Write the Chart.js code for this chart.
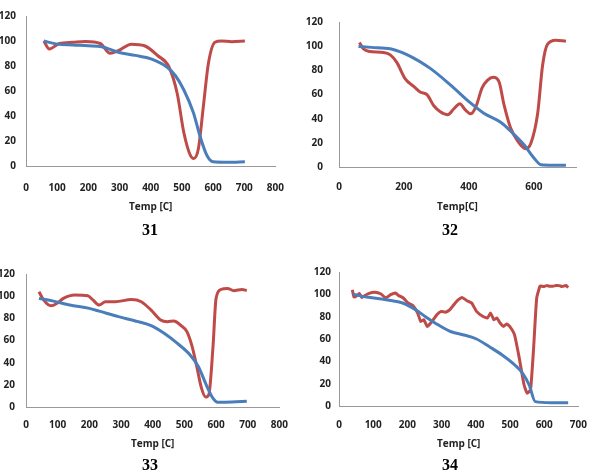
<!DOCTYPE html>
<html>
<head>
<meta charset="utf-8">
<script src="https://cdn.jsdelivr.net/npm/chart.js@4.4.0/dist/chart.umd.min.js"></script>
<style>
  body { margin: 0; background: #fff; }
  #wrap { position: relative; width: 600px; height: 474px; overflow: hidden; }
  canvas { position: absolute; }
  .num { position: absolute; width: 60px; line-height: 18px; text-align: center;
         font: bold 16px "Liberation Serif", serif; color: #000; }
</style>
</head>
<body>
<div id="wrap">
  <canvas id="c31" width="300" height="237" style="left:0;top:0"></canvas>
  <canvas id="c32" width="300" height="237" style="left:300px;top:0"></canvas>
  <canvas id="c33" width="300" height="237" style="left:0;top:237px"></canvas>
  <canvas id="c34" width="300" height="237" style="left:300px;top:237px"></canvas>
  <div class="num" style="left:120px;top:221px">31</div>
  <div class="num" style="left:420px;top:221px">32</div>
  <div class="num" style="left:120px;top:456px">33</div>
  <div class="num" style="left:420px;top:456px">34</div>
</div>
<script>
// sample 31
const blueX31 = [57, 100, 150, 200, 243, 296, 350, 401, 453, 480, 506, 537, 558, 580, 600, 650, 702];
const blueY31 = [100, 97.5, 96.8, 96.2, 95.4, 91, 88.5, 85.7, 79, 72, 61, 42.6, 24, 8.6, 3.4, 3, 3.4];
const redX31 = [57, 75, 107, 150, 191, 238, 270, 296, 338, 380, 422, 459, 485, 506, 527, 538, 553, 569, 585, 606, 627, 660, 702];
const redY31 = [100, 93.6, 98, 99, 99.6, 98, 90.2, 92.3, 97.5, 96.2, 88.4, 79, 58, 27, 8.6, 6, 14, 48, 82, 99, 100, 99.5, 100];

// sample 32
const blueX32 = [60, 100, 158, 220, 281, 343, 405, 446, 498, 529, 570, 601, 622, 660, 699];
const blueY32 = [99.8, 99, 97.8, 91.6, 81.6, 68, 53, 44.5, 37, 29.6, 18.4, 7.3, 1.9, 1.5, 1.5];
const redX32 = [63, 75, 91, 137, 158, 178, 204, 230, 251, 271, 292, 312, 335, 354, 372, 390, 405, 421, 441, 457, 475, 493, 508, 529, 549, 575, 591, 612, 627, 642, 668, 699];
const redY32 = [103, 97.8, 95.8, 94.8, 92.8, 86.6, 73, 66.8, 61.9, 59.9, 50.7, 45.7, 43.3, 48.2, 52.4, 47, 44, 49.4, 65.6, 71.7, 74.2, 70.5, 51.9, 32, 22, 15.2, 19.7, 44.5, 84, 101.5, 105, 104];

// sample 33
const blueX33 = [41, 87, 138, 200, 231, 292, 354, 395, 436, 477, 518, 544, 569, 590, 605, 650, 697];
const blueY33 = [98, 95.5, 92, 89, 86.5, 81.5, 77, 73.4, 66.5, 57.6, 47, 36.6, 20, 8, 4.3, 4.5, 5.2];
const redX33 = [41, 56, 79, 97, 118, 154, 195, 212, 231, 251, 282, 333, 364, 395, 425, 446, 467, 487, 508, 523, 538, 554, 567, 577, 590, 600, 615, 636, 656, 682, 697];
const redY33 = [104, 96.4, 91.3, 93.4, 98, 101, 100.3, 96.4, 92, 95, 95, 97, 95, 87.4, 78.5, 77, 77.6, 74, 68, 56, 38, 17, 9, 11, 53, 98, 106, 107, 105, 106, 105];

// sample 34
const blueX34 = [41, 86, 142, 188, 225, 253, 291, 328, 365, 402, 440, 477, 514, 537, 556, 574, 620, 670];
const blueY34 = [100, 97.3, 95, 92, 86, 80, 72.5, 66.5, 63.6, 60, 53, 45.7, 36.7, 29.3, 18.8, 3.9, 3, 3];
const redX34 = [39, 44, 53, 59, 67, 76, 86, 104, 123, 137, 151, 165, 174, 188, 202, 216, 230, 239, 248, 258,
  272, 286, 299, 311, 323, 332, 346, 360, 374, 388, 402, 420, 434, 443, 453, 462, 471, 481, 490, 499,
  513, 527, 541, 550, 560, 569, 578, 588, 598, 607, 616, 625, 635, 644, 652, 658, 664, 670];
const redY34 = [104, 97.5, 99, 100.8, 97.2, 99, 100.6, 101.8, 100.3, 96.7, 99.7, 101.2, 99, 96.7, 92.2, 90, 83.2, 75.7, 77.2, 71.2,
  75.7, 81.7, 84.7, 84, 86, 89.2, 94.3, 97.2, 94.3, 92.2, 84.7, 80.3, 78.8, 83.2, 77.2, 78.8, 74.3, 71.3, 73.4, 71.3,
  63.9, 43, 19, 11.5, 14.5, 52, 96.7, 107.5, 107, 107.8, 107.3, 107.2, 107.9, 107.8, 107, 107.5, 108, 106];

const BLUE = '#4a7ebb';
const RED = '#be4b48';

Chart.defaults.font.family = "'Open Sans', sans-serif";
Chart.defaults.color = '#222';

function pts(xs, ys) {
  return xs.map((x, i) => ({ x: x, y: ys[i] }));
}

function makeChart(id, blue, red, o) {
  new Chart(document.getElementById(id), {
    type: 'line',
    data: {
      datasets: [
        { data: blue, borderColor: BLUE, borderWidth: 3, pointRadius: 0, cubicInterpolationMode: 'monotone' },
        { data: red, borderColor: RED, borderWidth: 3, pointRadius: 0,
          cubicInterpolationMode: o.jagged ? 'default' : 'monotone', tension: o.jagged ? 0.15 : 0.4 }
      ]
    },
    options: {
      responsive: false,
      animation: false,
      layout: { padding: o.pad },
      plugins: { legend: { display: false }, tooltip: { enabled: false } },
      scales: {
        x: {
          type: 'linear',
          min: 0,
          max: o.xMax,
          grid: { display: false, drawTicks: false },
          border: { display: true, color: '#999', width: 1 },
          ticks: { stepSize: o.xStep, padding: o.xPad, font: { size: 10, weight: 'bold' } },
          afterBuildTicks: s => { s.ticks = s.ticks.filter(t => t.value % o.xStep === 0); },
          afterFit: s => { s.height = 50; },
          title: { display: true, text: o.title, color: '#222',
                   font: { size: 10, weight: 'bold' }, padding: { top: 0, bottom: o.titlePad } }
        },
        y: {
          min: 0,
          max: 120,
          grid: { display: false, drawTicks: false },
          border: { display: true, color: '#999', width: 1 },
          ticks: { stepSize: 20, padding: o.yPad, font: { size: 10, weight: 'bold' } },
          afterFit: s => { s.width = o.yW; }
        }
      }
    }
  });
}

makeChart('c31', pts(blueX31, blueY31), pts(redX31, redY31),
  { xMax: 800, xStep: 100, pad: { left: 0, top: 13, right: 20, bottom: 21 }, yW: 26, yPad: 10, xPad: 16, titlePad: 3, title: 'Temp [C]' });
makeChart('c32', pts(blueX32, blueY32), pts(redX32, redY32),
  { xMax: 730, xStep: 200, pad: { left: 0, top: 6, right: 24, bottom: 20 }, yW: 39, yPad: 16, xPad: 14, titlePad: 4, title: 'Temp[C]' });
makeChart('c33', pts(blueX33, blueY33), pts(redX33, redY33),
  { xMax: 800, xStep: 100, pad: { left: 0, top: 37, right: 15, bottom: 17 }, yW: 26, yPad: 11, xPad: 12, titlePad: 7, title: 'Temp [C]' });
makeChart('c34', pts(blueX34, blueY34), pts(redX34, redY34),
  { xMax: 700, xStep: 100, pad: { left: 0, top: 35, right: 10, bottom: 18 }, yW: 39, yPad: 8, xPad: 13, titlePad: 6, title: 'Temp [C]', jagged: true });
</script>
</body>
</html>
